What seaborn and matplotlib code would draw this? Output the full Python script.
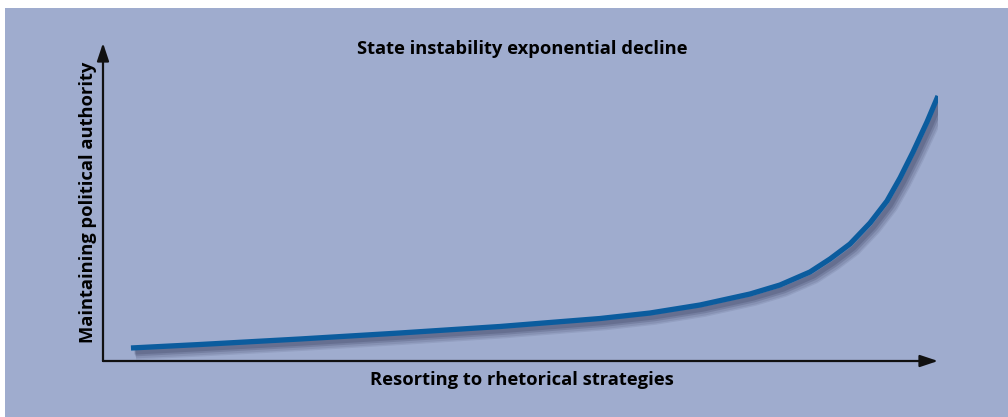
import numpy as np
import pandas as pd
import matplotlib
matplotlib.use("Agg")
import matplotlib.pyplot as plt
import matplotlib.patheffects as pe
from matplotlib.patches import Rectangle
import seaborn as sns

# ---- data (arbitrary units 0-10) ----
x_values = [0.335, 1.162, 2.359, 3.557, 4.754, 5.353, 5.952, 6.551, 7.150, 7.749,
            8.108, 8.467, 8.707, 8.946, 9.186, 9.389, 9.545, 9.701, 9.868, 10.0]
y_values = [0.409, 0.519, 0.692, 0.881, 1.085, 1.211, 1.336, 1.509, 1.761, 2.107,
            2.390, 2.799, 3.208, 3.679, 4.340, 5.031, 5.755, 6.572, 7.516, 8.333]
title_text = "State instability exponential decline"
x_label = "Resorting to rhetorical strategies"
y_label = "Maintaining political authority"

BG = "#9FACCE"
LINE = "#0B5C9E"

sns.set_theme(style="white")
plt.rcParams["font.family"] = ["Open Sans", "DejaVu Sans"]

W, H = 1008, 417
fig = plt.figure(figsize=(W / 100, H / 100), dpi=100, facecolor="white")
fig.patches.append(Rectangle((5 / W, 0), 1 - 5 / W, (H - 8) / H,
                             transform=fig.transFigure, facecolor=BG,
                             edgecolor="none", zorder=-10))

ax = fig.add_axes([103 / W, (H - 361) / H, 835 / W, 318 / H])
ax.set_facecolor("none")
ax.set_zorder(5)
for s in ax.spines.values():
    s.set_visible(False)
ax.set_xticks([])
ax.set_yticks([])
ax.set_xlim(0, 10)
ax.set_ylim(0, 10)

df = pd.DataFrame({"x": x_values, "y": y_values})
shadow = [pe.SimpleLineShadow(offset=(dx, dy), shadow_color="#2a3150", alpha=a, linewidth=lw)
          for dx, dy, a, lw in [(3.5, -4, 0.10, 9), (3.5, -4, 0.12, 7), (3, -3.5, 0.18, 5), (2.5, -3, 0.2, 3.5)]]
sns.lineplot(data=df, x="x", y="y", ax=ax, color=LINE, linewidth=3.8,
             solid_capstyle="butt", solid_joinstyle="round", sort=False,
             path_effects=shadow + [pe.Normal()])
ax.set_xlabel("")
ax.set_ylabel("")

arrow_kw = dict(arrowstyle="-|>,head_length=0.9,head_width=0.3", color="#111111",
                lw=1.6, shrinkA=0, shrinkB=0)
ax.annotate("", xy=(1.0, 0.0), xytext=(0.0, 0.0), xycoords="axes fraction",
            arrowprops=arrow_kw, annotation_clip=False)
ax.annotate("", xy=(0.0, 1.0), xytext=(0.0, 0.0), xycoords="axes fraction",
            arrowprops=arrow_kw, annotation_clip=False)

fig.text(522 / W, 1 - 49 / H, title_text, ha="center", va="center",
         fontsize=13.2, fontweight="bold", color="black")
fig.text(522 / W, 1 - 380 / H, x_label, ha="center", va="center",
         fontsize=13.2, fontweight="bold", color="black")
fig.text(88 / W, 1 - 202 / H, y_label, ha="center", va="center", rotation=90,
         fontsize=13.2, fontweight="bold", color="black")

fig.savefig("out.png", dpi=100, facecolor="white")
